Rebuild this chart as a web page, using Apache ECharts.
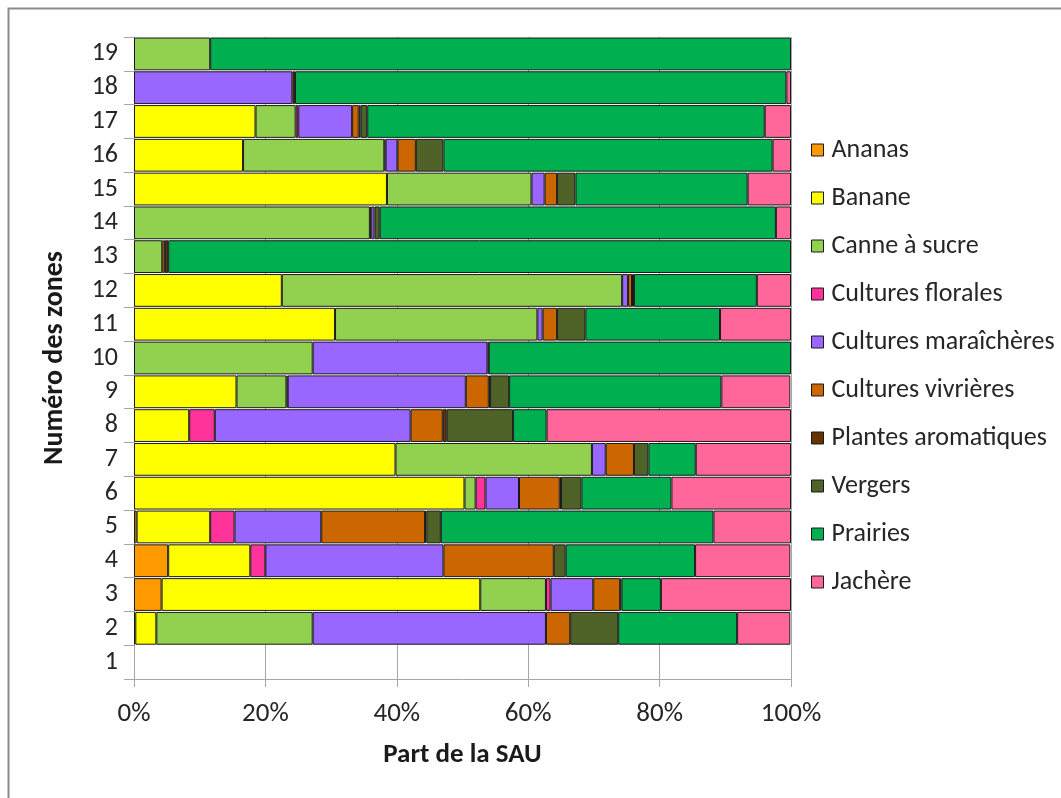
<!DOCTYPE html>
<html>
<head>
<meta charset="utf-8">
<script src="https://cdn.jsdelivr.net/npm/echarts@6/dist/echarts.min.js"></script>
<style>
html,body{margin:0;padding:0;background:#fff;}
#chart{width:1061px;height:798px;}
</style>
</head>
<body>
<div id="chart"></div>
<script>
// Zones 1..19 (bottom to top)
const zones = ['1','2','3','4','5','6','7','8','9','10','11','12','13','14','15','16','17','18','19'];
const xTicks = [0, 20, 40, 60, 80, 100];

const ananas     = [0, 0.2, 4.2, 5.2, 0.4, 0, 0, 0, 0, 0, 0, 0, 0, 0, 0, 0, 0, 0, 0];
const banane     = [0, 3.2, 48.5, 12.5, 11.2, 50.3, 39.8, 8.4, 15.6, 0, 30.6, 22.5, 0, 0, 38.5, 16.6, 18.5, 0, 0];
const canne      = [0, 23.8, 10.0, 0, 0, 1.7, 29.9, 0, 7.6, 27.2, 30.8, 51.8, 4.3, 35.9, 22.0, 21.5, 6.1, 0, 11.6];
const florales   = [0, 0, 0.7, 2.3, 3.7, 1.5, 0, 3.9, 0.2, 0, 0, 0, 0, 0.2, 0, 0.2, 0.4, 0, 0];
const maraicheres= [0, 35.5, 6.5, 27.1, 13.2, 5.1, 2.1, 29.8, 27.1, 26.6, 0.8, 0.9, 0, 0.5, 2.0, 1.8, 8.2, 24.1, 0];
const vivrieres  = [0, 3.7, 4.1, 16.8, 15.8, 6.2, 4.3, 4.9, 3.5, 0, 2.2, 0.6, 0.4, 0, 1.9, 2.8, 1.0, 0, 0];
const aromatiques= [0, 0, 0.2, 0, 0.2, 0.2, 0, 0.6, 0.2, 0.2, 0, 0.3, 0.5, 0, 0, 0, 0.3, 0.4, 0];
const vergers    = [0, 7.3, 0, 1.8, 2.2, 3.1, 2.2, 10.1, 2.9, 0, 4.3, 0, 0, 0.8, 2.8, 4.2, 1.0, 0, 0];
const prairies   = [0, 18.1, 6.0, 19.7, 41.5, 13.7, 7.2, 5.1, 32.3, 46.0, 20.5, 18.7, 94.8, 60.3, 26.2, 50.1, 60.5, 74.8, 88.4];
const jachere    = [0, 8.1, 19.8, 14.5, 11.8, 18.2, 14.5, 37.2, 10.5, 0, 10.8, 5.2, 0, 2.3, 6.6, 2.8, 4.0, 0.7, 0];

const seriesNames = ['Ananas','Banane','Canne à sucre','Cultures florales','Cultures maraîchères','Cultures vivrières','Plantes aromatiques','Vergers','Prairies','Jachère'];
const seriesData = [ananas, banane, canne, florales, maraicheres, vivrieres, aromatiques, vergers, prairies, jachere];
const colors = ['#FF9900','#FFFF00','#92D050','#FF3399','#9966FF','#CC6600','#663300','#4F6228','#00B050','#FF6699'];

const FONT = 'Carlito, Lato, "Liberation Sans", sans-serif';

const chart = echarts.init(document.getElementById('chart'), null, {renderer:'canvas'});
chart.setOption({
  animation: false,
  backgroundColor: '#ffffff',
  color: colors,
  textStyle: { fontFamily: FONT },
  grid: { left: 134, right: 270, top: 37, bottom: 119, containLabel: false },
  legend: {
    orient: 'vertical',
    left: 806,
    top: 132,
    itemWidth: 12,
    itemHeight: 12,
    itemGap: 22,
    icon: 'rect',
    data: seriesNames,
    textStyle: { fontFamily: FONT, fontSize: 26, lineHeight: 26, color: '#262626', padding: [0,0,0,3] },
    itemStyle: { borderColor: '#1a1a1a', borderWidth: 1 }
  },
  xAxis: {
    type: 'value',
    min: 0,
    max: 100,
    interval: 20,
    name: 'Part de la SAU',
    nameLocation: 'middle',
    nameGap: 63,
    nameTextStyle: { fontFamily: FONT, fontSize: 27, fontWeight: 'bold', color: '#1a1a1a' },
    axisLine: { show: true, lineStyle: { color: '#A6A6A6', width: 1 } },
    axisTick: { show: true, length: 8, lineStyle: { color: '#A6A6A6' } },
    axisLabel: { margin: 22, fontSize: 27, color: '#262626', fontFamily: FONT,
      formatter: v => xTicks.includes(v) ? v + '%' : '' },
    splitLine: { show: true, lineStyle: { color: '#A6A6A6', width: 1 } }
  },
  yAxis: {
    type: 'category',
    data: zones,
    name: 'Numéro des zones',
    nameLocation: 'middle',
    nameGap: 65,
    nameRotate: 90,
    nameTextStyle: { fontFamily: FONT, fontSize: 28, fontWeight: 'bold', color: '#1a1a1a' },
    axisLine: { show: true, lineStyle: { color: '#A6A6A6', width: 1 } },
    axisTick: { show: true, length: 10, alignWithLabel: false, interval: 0, lineStyle: { color: '#A6A6A6' } },
    axisLabel: { interval: 0, margin: 16, fontSize: 26, color: '#262626', fontFamily: FONT },
    splitLine: { show: false }
  },
  series: seriesNames.map((n, i) => ({
    name: n,
    type: 'bar',
    stack: 'total',
    barCategoryGap: '3%',
    data: seriesData[i].map(v => v === 0 ? null : v),
    itemStyle: { color: colors[i], borderColor: '#1a1a1a', borderWidth: 1 },
    emphasis: { disabled: true }
  })),
  graphic: [{
    type: 'rect',
    shape: { x: 8.5, y: 8.5, width: 1100, height: 850 },
    style: { fill: null, stroke: '#8C8C8C', lineWidth: 2 },
    silent: true
  }]
});
</script>
</body>
</html>
